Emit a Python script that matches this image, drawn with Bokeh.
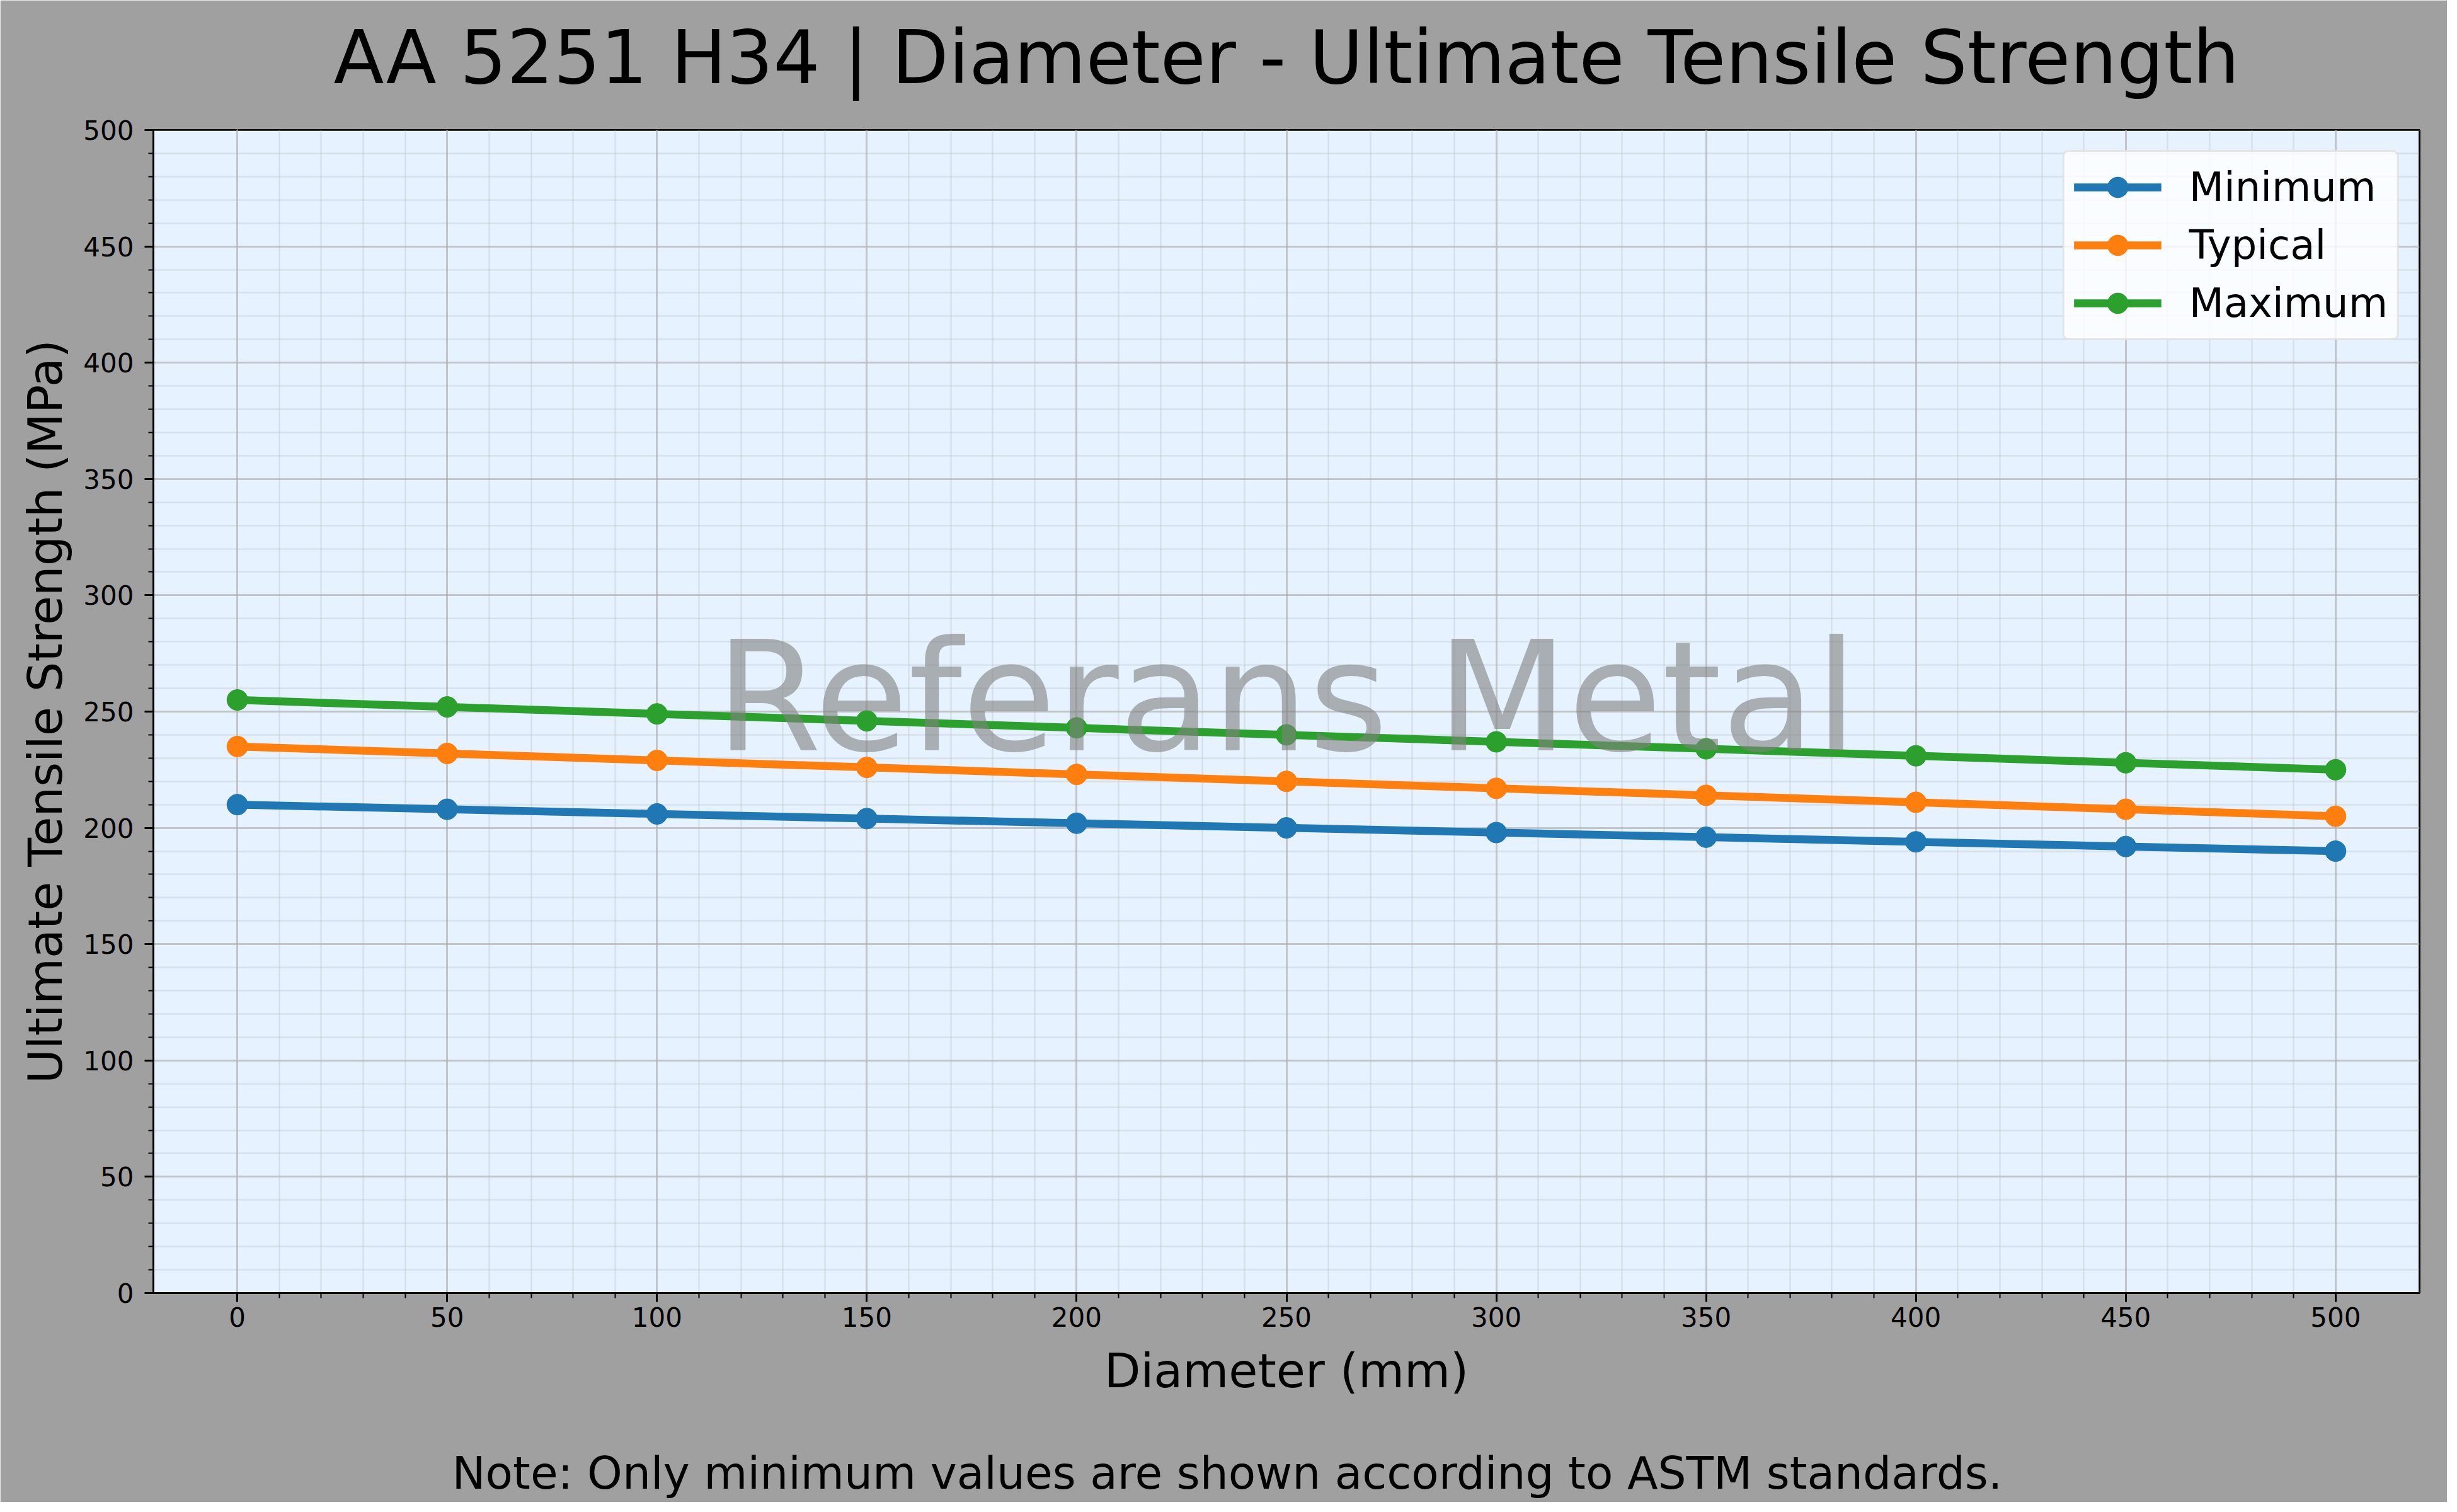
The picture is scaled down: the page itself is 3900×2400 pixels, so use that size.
from bokeh.plotting import figure
from bokeh.models import FixedTicker, Label, Range1d, Title, LinearAxis
from bokeh.embed import file_html
from bokeh.resources import INLINE

# ---- data ----
diameters = [0, 50, 100, 150, 200, 250, 300, 350, 400, 450, 500]
minimum = [210, 208, 206, 204, 202, 200, 198, 196, 194, 192, 190]
typical = [235, 232, 229, 226, 223, 220, 217, 214, 211, 208, 205]
maximum = [255, 252, 249, 246, 243, 240, 237, 234, 231, 228, 225]
series_names = ["Minimum", "Typical", "Maximum"]
series_colors = ["#1f77b4", "#ff7f0e", "#2ca02c"]
x_major_ticks = [0, 50, 100, 150, 200, 250, 300, 350, 400, 450, 500]
y_major_ticks = [0, 50, 100, 150, 200, 250, 300, 350, 400, 450, 500]
x_minor_ticks = list(range(0, 501, 10))
y_minor_ticks = list(range(0, 501, 10))

title_text = "AA 5251 H34 | Diameter - Ultimate Tensile Strength"
x_label = "Diameter (mm)"
y_label = "Ultimate Tensile Strength (MPa)"
note_text = "Note: Only minimum values are shown according to ASTM standards."
watermark_text = "Referans Metal"

FONT = "DejaVu Sans"
BG = "#a0a0a0"
W, H = 3884, 2384
FL, FR, FT, FB = 243, 44, 206, 332

p = figure(width=W, height=H, output_backend="svg", toolbar_location=None,
           x_range=Range1d(-20, 520), y_range=Range1d(0, 500),
           min_border_left=FL, min_border_right=FR,
           min_border_top=FT, min_border_bottom=FB)

xa = p.below[0]
ya = p.left[0]

p.background_fill_color = "#e6f2ff"
p.border_fill_color = BG
p.outline_line_color = "black"
p.outline_line_width = 3

x_ticker = FixedTicker(ticks=x_major_ticks, minor_ticks=x_minor_ticks)
y_ticker = FixedTicker(ticks=y_major_ticks, minor_ticks=y_minor_ticks)
xa.ticker = x_ticker
ya.ticker = y_ticker
p.xgrid.ticker = x_ticker
p.ygrid.ticker = y_ticker

for ax in (xa, ya):
    ax.axis_line_width = 3
    ax.axis_line_color = "black"
    ax.major_tick_line_width = 3
    ax.minor_tick_line_width = 2
    ax.major_tick_out = 14
    ax.major_tick_in = 0
    ax.minor_tick_out = 8
    ax.minor_tick_in = 0
    ax.major_label_text_font = FONT
    ax.major_label_text_font_size = "42px"
    ax.major_label_text_color = "black"
    ax.axis_label_text_font = FONT
    ax.axis_label_text_font_size = "75px"
    ax.axis_label_text_font_style = "normal"
    ax.axis_label_text_color = "black"

xa.axis_label = x_label
ya.axis_label = y_label
xa.major_label_standoff = 8
ya.major_label_standoff = 17
xa.axis_label_standoff = 23
ya.axis_label_standoff = 13

for g in (p.xgrid, p.ygrid):
    g.grid_line_color = "#b0b0b0"
    g.grid_line_alpha = 0.6
    g.grid_line_width = 3
    g.minor_grid_line_color = "#b0b0b0"
    g.minor_grid_line_alpha = 0.25
    g.minor_grid_line_width = 2.5

for name, vals, col in zip(series_names, [minimum, typical, maximum], series_colors):
    p.line(diameters, vals, line_width=12.5, color=col, legend_label=name)
    p.scatter(diameters, vals, size=33, color=col, legend_label=name)

lg = p.legend[0]
lg.location = "top_right"
lg.margin = 32
lg.padding = 15
lg.spacing = 10
lg.glyph_width = 139
lg.glyph_height = 82
lg.label_height = 82
lg.label_standoff = 44
lg.label_text_font = FONT
lg.label_text_font_size = "64px"
lg.label_text_color = "black"
lg.background_fill_color = "white"
lg.background_fill_alpha = 0.8
lg.border_line_color = "#cccccc"
lg.border_line_width = 3
lg.border_radius = 10

p.add_layout(Label(x=250, y=256, text=watermark_text,
                   text_align="center", text_baseline="alphabetic",
                   text_font=FONT, text_font_size="242px", text_color="gray",
                   text_alpha=0.6))

SPACER_AT = x_major_ticks[0]


def spacer_axis(gap):
    """A blank axis (one invisible tick, empty label) that only reserves room between panels."""
    return LinearAxis(ticker=FixedTicker(ticks=[SPACER_AT], minor_ticks=[]),
                      major_label_overrides={SPACER_AT: ""},
                      axis_line_color=BG, axis_line_width=1,
                      major_tick_line_color=BG, major_tick_line_width=1,
                      minor_tick_line_color=BG,
                      major_tick_out=gap, major_tick_in=0,
                      minor_tick_out=0, minor_tick_in=0,
                      major_label_standoff=0,
                      major_label_text_font_size="1px")


# room between frame and title (title panel sits outside above-axes)
p.add_layout(spacer_axis(47), "above")

p.title.text = title_text
p.title.align = "center"
p.title.text_font = FONT
p.title.text_font_size = "117px"
p.title.text_font_style = "normal"
p.title.text_color = "black"
p.title.standoff = 0

# room between the x-axis label and the note
p.add_layout(spacer_axis(70), "below")

note = Title(text=note_text, align="left", offset=474, standoff=4,
             text_font=FONT, text_font_size="71px", text_font_style="normal",
             text_color="black")
p.add_layout(note, "below")

open("out.html", "w").write(file_html(p, INLINE))
